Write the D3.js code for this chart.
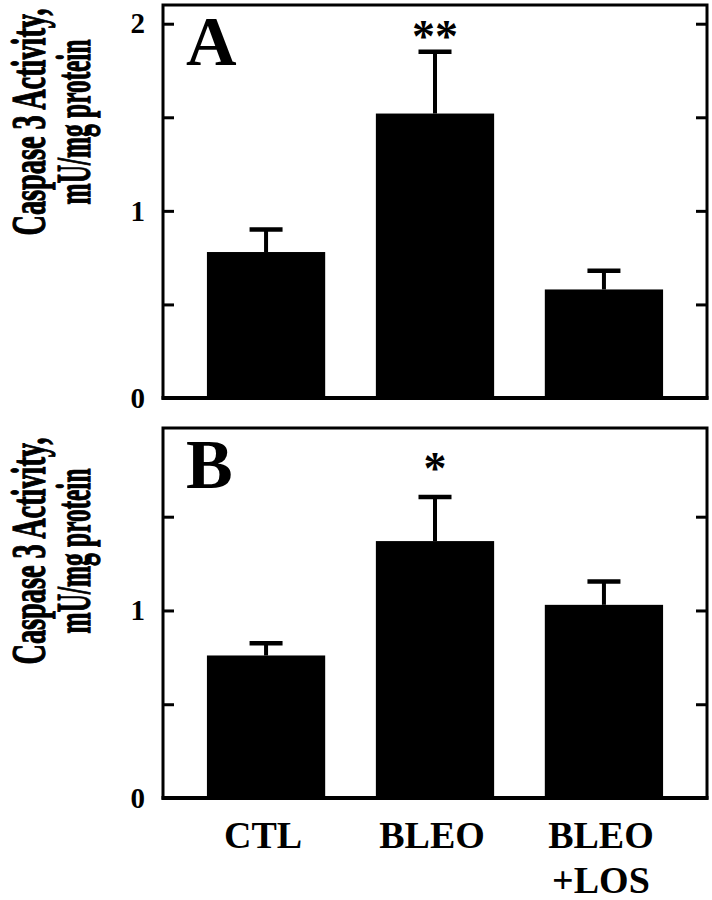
<!DOCTYPE html>
<html>
<head>
<meta charset="utf-8">
<script src="https://cdn.jsdelivr.net/npm/d3@7"></script>
<style>
  html, body { margin: 0; padding: 0; background: #fff; }
  svg { display: block; }
  text { font-family: "Liberation Serif", "Times New Roman", serif; font-weight: bold; fill: #000; }
</style>
</head>
<body>
<svg id="chart" width="712" height="900"></svg>
<script>
// ---- data ----
const categories = ["CTL", "BLEO", "BLEO+LOS"];
const categoryLines = [["CTL"], ["BLEO"], ["BLEO", "+LOS"]];
const panelLabels = ["A", "B"];
const meansA = [0.78, 1.52, 0.58];
const errorsA = [0.12, 0.33, 0.10];
const meansB = [0.76, 1.37, 1.03];
const errorsB = [0.065, 0.235, 0.125];
const starsA = ["", "**", ""];
const starsB = ["", "*", ""];
const tickValuesA = [0, 0.5, 1, 1.5, 2];
const tickLabelsA = ["0", "", "1", "", "2"];
const tickValuesB = [0, 0.5, 1, 1.5];
const tickLabelsB = ["0", "", "1", ""];
const yTitleLines = ["Caspase 3 Activity,", "mU/mg protein"];

// ---- layout ----
const svg = d3.select("#chart");
const x0 = 163, x1 = 707;
const x = d3.scaleBand().domain(categories).range([x0, x1]).paddingInner(0.3).paddingOuter(0.26);

const panels = [
  { label: panelLabels[0], means: meansA, errors: errorsA, stars: starsA, ticks: tickValuesA, tickLabels: tickLabelsA,
    top: 5, bottom: 398, yMax: 2.10, titleCenter: 122, starGap: 0 },
  { label: panelLabels[1], means: meansB, errors: errorsB, stars: starsB, ticks: tickValuesB, tickLabels: tickLabelsB,
    top: 428, bottom: 798, yMax: 1.973, titleCenter: 551, starGap: 13 }
];

panels.forEach(p => {
  const y = d3.scaleLinear().domain([0, p.yMax]).range([p.bottom, p.top]);
  const g = svg.append("g");

  // bars
  g.selectAll("rect.bar").data(p.means).join("rect")
    .attr("class", "bar")
    .attr("x", (d, i) => x(categories[i]))
    .attr("width", x.bandwidth())
    .attr("y", d => y(d))
    .attr("height", d => y(0) - y(d))
    .attr("fill", "#000");

  // error bars (upper only)
  p.means.forEach((m, i) => {
    const cx = x(categories[i]) + x.bandwidth() / 2;
    g.append("line").attr("x1", cx).attr("x2", cx)
      .attr("y1", y(m)).attr("y2", y(m + p.errors[i]))
      .attr("stroke", "#000").attr("stroke-width", 4);
    g.append("line").attr("x1", cx - 16.5).attr("x2", cx + 16.5)
      .attr("y1", y(m + p.errors[i])).attr("y2", y(m + p.errors[i]))
      .attr("stroke", "#000").attr("stroke-width", 4.5);
    if (p.stars[i]) {
      g.append("text").attr("x", cx).attr("y", y(m + p.errors[i]) - p.starGap)
        .attr("text-anchor", "middle").attr("font-size", 46)
        .text(p.stars[i]);
    }
  });

  // axes with inner ticks, left and right
  const axL = d3.axisLeft(y).tickValues(p.ticks).tickSize(-11).tickPadding(18)
    .tickFormat((d, i) => p.tickLabels[i]);
  const gl = g.append("g").attr("transform", `translate(${x0},0)`).call(axL);
  gl.select(".domain").remove();
  gl.selectAll(".tick line").attr("stroke", "#000").attr("stroke-width", 3);
  gl.selectAll(".tick text").attr("font-size", 29).attr("font-family", "Liberation Serif, serif")
    .attr("font-weight", "bold").attr("fill", "#000");

  const axR = d3.axisRight(y).tickValues(p.ticks).tickSize(-11).tickFormat("");
  const gr = g.append("g").attr("transform", `translate(${x1},0)`).call(axR);
  gr.select(".domain").remove();
  gr.selectAll(".tick line").attr("stroke", "#000").attr("stroke-width", 3);

  // frame
  g.append("rect").attr("x", x0).attr("y", p.top)
    .attr("width", x1 - x0).attr("height", p.bottom - p.top)
    .attr("fill", "none").attr("stroke", "#000").attr("stroke-width", 3);
  g.append("line").attr("x1", x0 - 1.5).attr("x2", x1 + 1.5)
    .attr("y1", p.bottom).attr("y2", p.bottom)
    .attr("stroke", "#000").attr("stroke-width", 4);

  // panel letter
  g.append("text").attr("x", 186).attr("y", p.top + 60)
    .attr("font-size", 70).text(p.label);

  // y title (two rotated, horizontally condensed lines)
  const lens = [227, 165];
  const bases = [44.5, 90];
  yTitleLines.forEach((t, k) => {
    const tx = g.append("text")
      .attr("text-anchor", "middle")
      .attr("font-size", 49)
      .attr("stroke", "#000").attr("stroke-width", 1.2)
      .text(t);
    const natural = tx.node().getComputedTextLength();
    const sx = lens[k] / natural;
    tx.attr("transform", `translate(${bases[k]},${p.titleCenter}) rotate(-90) scale(${sx},1)`);
  });
});

// x category labels
categoryLines.forEach((lines, i) => {
  const cx = x(categories[i]) + x.bandwidth() / 2 - 3;
  lines.forEach((t, k) => {
    svg.append("text").attr("x", cx).attr("y", 848 + k * 45)
      .attr("text-anchor", "middle").attr("font-size", 38)
      .text(t);
  });
});
</script>
</body>
</html>
